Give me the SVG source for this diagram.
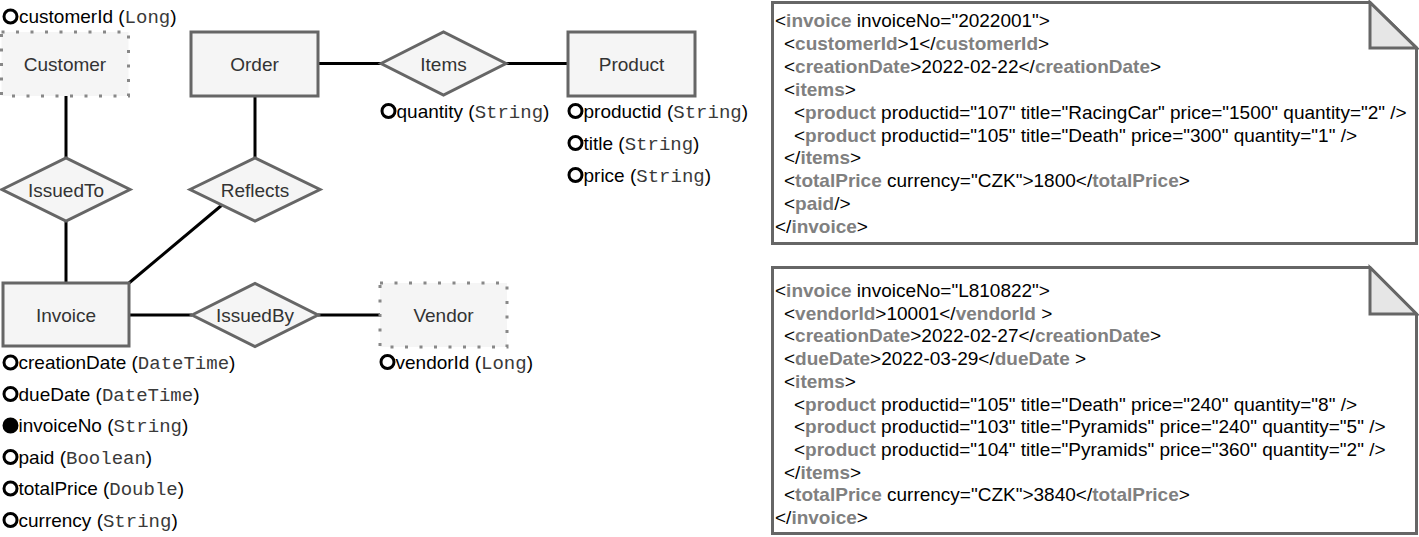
<svg xmlns="http://www.w3.org/2000/svg" width="1419" height="537" viewBox="0 0 1419 537">
<style>
.ent{fill:#f5f5f5;stroke:#666666;stroke-width:3}
.weak{fill:#f5f5f5;stroke:#888888;stroke-width:3;stroke-dasharray:3 11.5}
.lbl{font-family:"Liberation Sans",Arial,sans-serif;font-size:19px;fill:#333333;text-anchor:middle}
.at{font-family:"Liberation Sans",Arial,sans-serif;font-size:19px;fill:#000000}
.mono{font-family:"Liberation Mono","Courier New",monospace;fill:#3a3a3a}
.dot{fill:#ffffff;stroke:#000000;stroke-width:3}
.key{fill:#000000;stroke:#000000;stroke-width:3}
.conn path{fill:none;stroke:#000000;stroke-width:3}
.note{fill:#ffffff;stroke:#666666;stroke-width:3}
.fold{fill:#e6e6e6;stroke:#666666;stroke-width:3;stroke-linejoin:miter}
.xml{font-family:"Liberation Sans",Arial,sans-serif;font-size:19px;fill:#000000}
.tg{fill:#808080;font-weight:bold}
</style>

<g id="connectors" class="conn">
<path d="M66,96 V158"/>
<path d="M66,221 V283"/>
<path d="M255,96 V158"/>
<path d="M129,283 L222,205"/>
<path d="M318,63.5 H381"/>
<path d="M506,63.5 H568"/>
<path d="M129,315 H192"/>
<path d="M318,315 H380"/>
</g>

<g id="customer">
<rect class="weak" x="1.5" y="32" width="127" height="64"/>
<text class="lbl" x="65" y="70.5">Customer</text>
</g>
<g id="customerId">
<circle class="dot" cx="10.5" cy="16.5" r="6.5"/>
<text class="at" x="19" y="23">customerId (<tspan class="mono">Long</tspan>)</text>
</g>

<g id="order">
<rect class="ent" x="191" y="32" width="127" height="64"/>
<text class="lbl" x="254.5" y="70.5">Order</text>
</g>

<g id="items">
<polygon class="ent" points="381,63.5 443.5,32 506,63.5 443.5,95"/>
<text class="lbl" x="443.5" y="70.5">Items</text>
</g>
<g id="quantity">
<circle class="dot" cx="388.5" cy="111" r="6.5"/>
<text class="at" x="396.5" y="117.5">quantity (<tspan class="mono">String</tspan>)</text>
</g>

<g id="product">
<rect class="ent" x="568" y="32" width="127" height="64"/>
<text class="lbl" x="631.5" y="70.5">Product</text>
</g>
<g id="productid">
<circle class="dot" cx="575.5" cy="111" r="6.5"/>
<text class="at" x="583.5" y="117.5">productid (<tspan class="mono">String</tspan>)</text>
</g>
<g id="title">
<circle class="dot" cx="575.5" cy="143" r="6.5"/>
<text class="at" x="583.5" y="149.5">title (<tspan class="mono">String</tspan>)</text>
</g>
<g id="price">
<circle class="dot" cx="575.5" cy="175" r="6.5"/>
<text class="at" x="583.5" y="181.5">price (<tspan class="mono">String</tspan>)</text>
</g>

<g id="issuedTo">
<polygon class="ent" points="2,189.5 66,158 130,189.5 66,221"/>
<text class="lbl" x="66" y="196.5">IssuedTo</text>
</g>

<g id="reflects">
<polygon class="ent" points="190,189.5 255,158 320,189.5 255,221"/>
<text class="lbl" x="255" y="196.5">Reflects</text>
</g>

<g id="invoice">
<rect class="ent" x="3" y="283" width="126" height="63"/>
<text class="lbl" x="66" y="321.5">Invoice</text>
</g>

<g id="issuedBy">
<polygon class="ent" points="192,315 255,283.5 318,315 255,346.5"/>
<text class="lbl" x="255" y="321.5">IssuedBy</text>
</g>

<g id="vendor">
<rect class="weak" x="380" y="283" width="127" height="64"/>
<text class="lbl" x="443.5" y="321.5">Vendor</text>
</g>
<g id="vendorId">
<circle class="dot" cx="387.5" cy="362" r="6.5"/>
<text class="at" x="395.5" y="368.5">vendorId (<tspan class="mono">Long</tspan>)</text>
</g>

<g id="invoiceAttrs">
<circle class="dot" cx="10.5" cy="362.5" r="6.5"/>
<text class="at" x="18.5" y="369">creationDate (<tspan class="mono">DateTime</tspan>)</text>
<circle class="dot" cx="10.5" cy="394" r="6.5"/>
<text class="at" x="18.5" y="400.5">dueDate (<tspan class="mono">DateTime</tspan>)</text>
<circle class="key" cx="10.5" cy="425.5" r="6.5"/>
<text class="at" x="18.5" y="432">invoiceNo (<tspan class="mono">String</tspan>)</text>
<circle class="dot" cx="10.5" cy="457" r="6.5"/>
<text class="at" x="18.5" y="463.5">paid (<tspan class="mono">Boolean</tspan>)</text>
<circle class="dot" cx="10.5" cy="488.5" r="6.5"/>
<text class="at" x="18.5" y="495">totalPrice (<tspan class="mono">Double</tspan>)</text>
<circle class="dot" cx="10.5" cy="520" r="6.5"/>
<text class="at" x="18.5" y="526.5">currency (<tspan class="mono">String</tspan>)</text>
</g>

<g id="xml1">
<path class="note" d="M772.5,2.5 H1370 L1416.5,48 V243.5 H772.5 Z"/>
<path class="fold" d="M1370,2.5 V48 H1416.5 Z"/>
<text class="xml" x="775" y="27">&lt;<tspan class="tg">invoice</tspan> invoiceNo="2022001"&gt;</text>
<text class="xml" x="784" y="49.9">&lt;<tspan class="tg">customerId</tspan>&gt;1&lt;/<tspan class="tg">customerId</tspan>&gt;</text>
<text class="xml" x="784" y="72.8">&lt;<tspan class="tg">creationDate</tspan>&gt;2022-02-22&lt;/<tspan class="tg">creationDate</tspan>&gt;</text>
<text class="xml" x="784" y="95.7">&lt;<tspan class="tg">items</tspan>&gt;</text>
<text class="xml" x="794" y="118.6">&lt;<tspan class="tg">product</tspan> productid="107" title="RacingCar" price="1500" quantity="2" /&gt;</text>
<text class="xml" x="794" y="141.5">&lt;<tspan class="tg">product</tspan> productid="105" title="Death" price="300" quantity="1" /&gt;</text>
<text class="xml" x="784" y="164.4">&lt;/<tspan class="tg">items</tspan>&gt;</text>
<text class="xml" x="784" y="187.3">&lt;<tspan class="tg">totalPrice</tspan> currency="CZK"&gt;1800&lt;/<tspan class="tg">totalPrice</tspan>&gt;</text>
<text class="xml" x="784" y="210.2">&lt;<tspan class="tg">paid</tspan>/&gt;</text>
<text class="xml" x="775" y="233.1">&lt;/<tspan class="tg">invoice</tspan>&gt;</text>
</g>

<g id="xml2">
<path class="note" d="M772.5,267.5 H1370 L1416.5,314 V533.5 H772.5 Z"/>
<path class="fold" d="M1370,267.5 V314 H1416.5 Z"/>
<text class="xml" x="775" y="297">&lt;<tspan class="tg">invoice</tspan> invoiceNo="L810822"&gt;</text>
<text class="xml" x="784" y="319.7">&lt;<tspan class="tg">vendorId</tspan>&gt;10001&lt;/<tspan class="tg">vendorId</tspan> &gt;</text>
<text class="xml" x="784" y="342.4">&lt;<tspan class="tg">creationDate</tspan>&gt;2022-02-27&lt;/<tspan class="tg">creationDate</tspan>&gt;</text>
<text class="xml" x="784" y="365.1">&lt;<tspan class="tg">dueDate</tspan>&gt;2022-03-29&lt;/<tspan class="tg">dueDate</tspan> &gt;</text>
<text class="xml" x="784" y="387.8">&lt;<tspan class="tg">items</tspan>&gt;</text>
<text class="xml" x="794" y="410.5">&lt;<tspan class="tg">product</tspan> productid="105" title="Death" price="240" quantity="8" /&gt;</text>
<text class="xml" x="794" y="433.2">&lt;<tspan class="tg">product</tspan> productid="103" title="Pyramids" price="240" quantity="5" /&gt;</text>
<text class="xml" x="794" y="455.9">&lt;<tspan class="tg">product</tspan> productid="104" title="Pyramids" price="360" quantity="2" /&gt;</text>
<text class="xml" x="784" y="478.6">&lt;/<tspan class="tg">items</tspan>&gt;</text>
<text class="xml" x="784" y="501.3">&lt;<tspan class="tg">totalPrice</tspan> currency="CZK"&gt;3840&lt;/<tspan class="tg">totalPrice</tspan>&gt;</text>
<text class="xml" x="775" y="524">&lt;/<tspan class="tg">invoice</tspan>&gt;</text>
</g>
</svg>
